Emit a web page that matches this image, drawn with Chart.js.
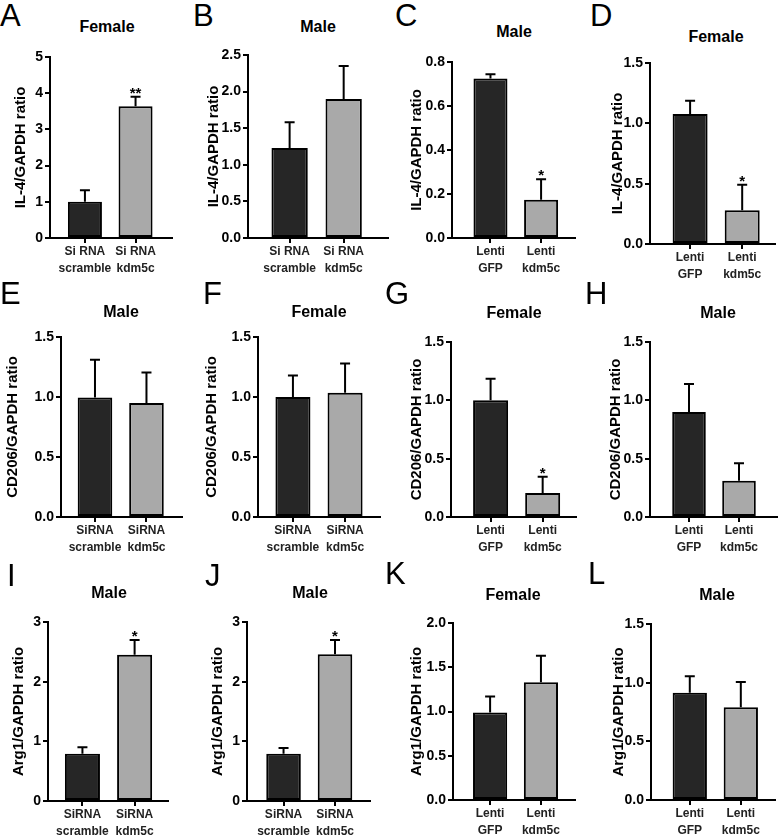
<!DOCTYPE html>
<html>
<head>
<meta charset="utf-8">
<script src="https://cdn.jsdelivr.net/npm/chart.js@4.4.1/dist/chart.umd.min.js"></script>
<style>
  body { margin: 0; width: 778px; height: 836px; position: relative; overflow: hidden; background: #fff;
         font-family: "Liberation Sans", Arial, sans-serif; }
  canvas { position: absolute; }
  .letter { position: absolute; font-size: 31px; line-height: 30px; color: #000; }
  .title { position: absolute; font-size: 16px; line-height: 16px; font-weight: bold; color: #000;
           transform: translate(-50%, -50%); white-space: nowrap; }
</style>
</head>
<body>
<script>
// group labels (two lines each)
const siSpaceLabels = [['Si RNA', 'scramble'], ['Si RNA', 'kdm5c']];
const siRnaLabels = [['SiRNA', 'scramble'], ['SiRNA', 'kdm5c']];
const lentiLabels = [['Lenti', 'GFP'], ['Lenti', 'kdm5c']];

// IL-4
const il4SiFemale = [1.0, 3.64];
const il4SiFemaleErr = [0.32, 0.26];
const il4SiFemaleStars = ['', '**'];
const il4SiMale = [1.23, 1.9];
const il4SiMaleErr = [0.35, 0.45];
const il4LentiMale = [0.725, 0.174];
const il4LentiMaleErr = [0.019, 0.093];
const il4LentiMaleStars = ['', '*'];
const il4LentiFemale = [1.077, 0.28];
const il4LentiFemaleErr = [0.11, 0.21];
const il4LentiFemaleStars = ['', '*'];

// CD206
const cd206SiMale = [0.995, 0.95];
const cd206SiMaleErr = [0.315, 0.255];
const cd206SiFemale = [1.0, 1.035];
const cd206SiFemaleErr = [0.18, 0.245];
const cd206LentiFemale = [1.0, 0.205];
const cd206LentiFemaleErr = [0.185, 0.14];
const cd206LentiFemaleStars = ['', '*'];
const cd206LentiMale = [0.9, 0.31];
const cd206LentiMaleErr = [0.24, 0.15];

// Arg1
const arg1SiMaleI = [0.79, 2.45];
const arg1SiMaleIErr = [0.11, 0.25];
const arg1SiMaleJ = [0.79, 2.46];
const arg1SiMaleJErr = [0.1, 0.24];
const arg1Stars = ['', '*'];
const arg1LentiFemale = [0.99, 1.33];
const arg1LentiFemaleErr = [0.18, 0.3];
const arg1LentiMale = [0.915, 0.79];
const arg1LentiMaleErr = [0.14, 0.215];

const noStars = ['', ''];

const panels = [
  { letter: 'A', title: 'Female', yTitle: 'IL-4/GAPDH ratio', labels: siSpaceLabels, values: il4SiFemale, errors: il4SiFemaleErr, stars: il4SiFemaleStars, yMax: 5, yStep: 1, dec: 0 },
  { letter: 'B', title: 'Male', yTitle: 'IL-4/GAPDH ratio', labels: siSpaceLabels, values: il4SiMale, errors: il4SiMaleErr, stars: noStars, yMax: 2.5, yStep: 0.5, dec: 1 },
  { letter: 'C', title: 'Male', yTitle: 'IL-4/GAPDH ratio', labels: lentiLabels, values: il4LentiMale, errors: il4LentiMaleErr, stars: il4LentiMaleStars, yMax: 0.8, yStep: 0.2, dec: 1 },
  { letter: 'D', title: 'Female', yTitle: 'IL-4/GAPDH ratio', labels: lentiLabels, values: il4LentiFemale, errors: il4LentiFemaleErr, stars: il4LentiFemaleStars, yMax: 1.5, yStep: 0.5, dec: 1 },
  { letter: 'E', title: 'Male', yTitle: 'CD206/GAPDH ratio', labels: siRnaLabels, values: cd206SiMale, errors: cd206SiMaleErr, stars: noStars, yMax: 1.5, yStep: 0.5, dec: 1 },
  { letter: 'F', title: 'Female', yTitle: 'CD206/GAPDH ratio', labels: siRnaLabels, values: cd206SiFemale, errors: cd206SiFemaleErr, stars: noStars, yMax: 1.5, yStep: 0.5, dec: 1 },
  { letter: 'G', title: 'Female', yTitle: 'CD206/GAPDH ratio', labels: lentiLabels, values: cd206LentiFemale, errors: cd206LentiFemaleErr, stars: cd206LentiFemaleStars, yMax: 1.5, yStep: 0.5, dec: 1 },
  { letter: 'H', title: 'Male', yTitle: 'CD206/GAPDH ratio', labels: lentiLabels, values: cd206LentiMale, errors: cd206LentiMaleErr, stars: noStars, yMax: 1.5, yStep: 0.5, dec: 1 },
  { letter: 'I', title: 'Male', yTitle: 'Arg1/GAPDH ratio', labels: siRnaLabels, values: arg1SiMaleI, errors: arg1SiMaleIErr, stars: arg1Stars, yMax: 3, yStep: 1, dec: 0 },
  { letter: 'J', title: 'Male', yTitle: 'Arg1/GAPDH ratio', labels: siRnaLabels, values: arg1SiMaleJ, errors: arg1SiMaleJErr, stars: arg1Stars, yMax: 3, yStep: 1, dec: 0 },
  { letter: 'K', title: 'Female', yTitle: 'Arg1/GAPDH ratio', labels: lentiLabels, values: arg1LentiFemale, errors: arg1LentiFemaleErr, stars: noStars, yMax: 2, yStep: 0.5, dec: 1 },
  { letter: 'L', title: 'Male', yTitle: 'Arg1/GAPDH ratio', labels: lentiLabels, values: arg1LentiMale, errors: arg1LentiMaleErr, stars: noStars, yMax: 1.5, yStep: 0.5, dec: 1 }
];

// where each panel sits on the page: plot area [left, top, right, bottom], x range, axis title x, title centre, letter
const frames = [
  { area: [50, 57, 172, 238], x: [0.31, 2.72], yTitleX: 21, title: [107, 27], letterAt: [0, 5] },
  { area: [248, 55, 388, 238], x: [0.23, 2.82], yTitleX: 214, title: [318, 27], letterAt: [193, 5] },
  { area: [452, 62, 575, 238], x: [0.24, 2.67], yTitleX: 417, title: [514, 32], letterAt: [395, 5] },
  { area: [650, 63, 775, 244], x: [0.23, 2.63], yTitleX: 618, title: [716, 37], letterAt: [590, 5] },
  { area: [61, 337, 182, 517], x: [0.34, 2.69], yTitleX: 13, title: [121, 312], letterAt: [0, 283] },
  { area: [258, 337, 380, 517], x: [0.33, 2.67], yTitleX: 212, title: [319, 312], letterAt: [203, 283] },
  { area: [451, 342, 576, 517], x: [0.24, 2.64], yTitleX: 417, title: [514, 313], letterAt: [385, 283] },
  { area: [650, 342, 777, 517], x: [0.22, 2.76], yTitleX: 616, title: [718, 313], letterAt: [585, 283] },
  { area: [48, 622, 168, 801], x: [0.34, 2.64], yTitleX: 19, title: [109, 593], letterAt: [7, 565] },
  { area: [247, 622, 370, 801], x: [0.29, 2.68], yTitleX: 218, title: [310, 593], letterAt: [205, 565] },
  { area: [453, 623, 575, 800], x: [0.27, 2.67], yTitleX: 417, title: [513, 595], letterAt: [385, 563] },
  { area: [651, 624, 775, 800], x: [0.24, 2.67], yTitleX: 619, title: [717, 595], letterAt: [588, 563] }
];

const X_AXIS_H = 46;
const FONT = '"Liberation Sans", Arial, sans-serif';
Chart.defaults.font.family = FONT;
Chart.defaults.color = '#000';

// up-only SEM bars plus significance stars
const errorBars = {
  id: 'errorBars',
  afterDatasetsDraw(chart, args, opts) {
    const { ctx } = chart;
    const y = chart.scales.y;
    const meta = chart.getDatasetMeta(0);
    ctx.save();
    ctx.strokeStyle = '#000';
    ctx.lineWidth = 2;
    ctx.fillStyle = '#000';
    ctx.font = `bold 15px ${FONT}`;
    ctx.textAlign = 'center';
    ctx.textBaseline = 'alphabetic';
    meta.data.forEach((bar, i) => {
      const value = chart.data.datasets[0].data[i].y;
      const top = y.getPixelForValue(value + opts.errors[i]);
      ctx.beginPath();
      ctx.moveTo(bar.x, bar.y);
      ctx.lineTo(bar.x, top);
      ctx.moveTo(bar.x - 5, top);
      ctx.lineTo(bar.x + 5, top);
      ctx.stroke();
      if (opts.stars[i]) ctx.fillText(opts.stars[i], bar.x, top + 1);
    });
    ctx.restore();
  }
};

function addText(cls, text, x, y) {
  const el = document.createElement('div');
  el.className = cls;
  el.textContent = text;
  el.style.left = x + 'px';
  el.style.top = y + 'px';
  document.body.appendChild(el);
}

function makePanel(p, f) {
  const [l, t, r, b] = f.area;
  const left = f.yTitleX - 12;
  const top = t - 14;
  const width = r - left + 4;
  const height = b - top + X_AXIS_H;

  const canvas = document.createElement('canvas');
  canvas.width = width;
  canvas.height = height;
  canvas.style.left = left + 'px';
  canvas.style.top = top + 'px';
  document.body.appendChild(canvas);

  addText('letter', p.letter, f.letterAt[0], f.letterAt[1] - 4);
  addText('title', p.title, f.title[0], f.title[1]);

  new Chart(canvas, {
    type: 'bar',
    data: {
      datasets: [{
        data: p.values.map((v, i) => ({ x: i + 1, y: v })),
        backgroundColor: ['#262626', '#a9a9a9'],
        borderColor: '#000',
        borderWidth: 2,
        borderSkipped: false,
        barPercentage: 0.84,
        categoryPercentage: 0.8
      }]
    },
    options: {
      responsive: false,
      animation: false,
      layout: { padding: { left: 0, top: t - top, right: left + width - r, bottom: 0 } },
      plugins: {
        legend: { display: false },
        tooltip: { enabled: false },
        errorBars: { errors: p.errors, stars: p.stars }
      },
      scales: {
        x: {
          type: 'linear',
          offset: false,
          bounds: 'data',
          min: f.x[0],
          max: f.x[1],
          afterBuildTicks: s => { s.ticks = [{ value: 1 }, { value: 2 }]; },
          afterFit: s => { s.height = X_AXIS_H; },
          border: { display: true, color: '#000', width: 2 },
          grid: { offset: false, drawOnChartArea: false, drawTicks: true, tickLength: 5, color: '#000', lineWidth: 2 },
          ticks: {
            autoSkip: false,
            maxRotation: 0,
            padding: 0,
            color: '#222',
            font: { size: 12, weight: 'bold', lineHeight: 1.4 },
            callback: v => p.labels[Math.round(v) - 1]
          }
        },
        y: {
          min: 0,
          max: p.yMax,
          afterFit: s => { s.width = l - left; },
          border: { display: true, color: '#000', width: 2 },
          grid: { drawOnChartArea: false, drawTicks: true, tickLength: 5, color: '#000', lineWidth: 2 },
          ticks: {
            stepSize: p.yStep,
            padding: 2,
            color: '#000',
            font: { size: 14, weight: 'bold' },
            callback: v => Number(v).toFixed(p.dec)
          },
          title: {
            display: true,
            text: p.yTitle,
            color: '#000',
            padding: { top: 3, bottom: 0 },
            font: { size: 15, weight: 'bold', lineHeight: 1.2 }
          }
        }
      }
    },
    plugins: [errorBars]
  });
}

panels.forEach((p, i) => makePanel(p, frames[i]));
</script>
</body>
</html>
